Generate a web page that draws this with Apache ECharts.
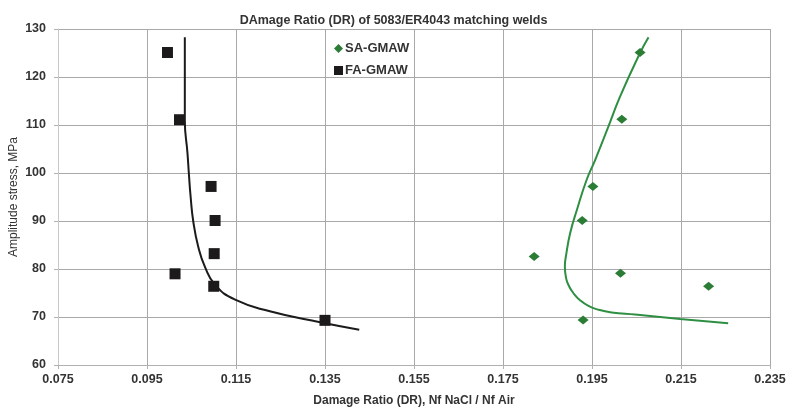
<!DOCTYPE html>
<html><head><meta charset="utf-8">
<script src="https://cdn.jsdelivr.net/npm/echarts@6/dist/echarts.min.js"></script>
<style>html,body{margin:0;padding:0;background:#fff}#c{width:787px;height:408px}</style>
</head><body><div id="c"></div>
<script>
// Data
const titleText = 'DAmage Ratio (DR) of 5083/ER4043 matching welds';
const xAxisName = 'Damage Ratio (DR), Nf NaCl / Nf Air';
const yAxisName = 'Amplitude stress, MPa';
const seriesNames = ['SA-GMAW', 'FA-GMAW'];

const saPoints = [[0.2058,125.1],[0.2017,111.2],[0.1952,97.2],[0.1928,90.1],[0.1820,82.6],[0.2014,79.1],[0.2212,76.4],[0.1930,69.4]];
const faPoints = [[0.0996,125.1],[0.1023,111.1],[0.1094,97.2],[0.1103,90.1],[0.1101,83.2],[0.1013,79.0],[0.1100,76.4],[0.1350,69.3]];

const saTrend = [[0.2077,128.3],[0.2058,125],[0.2013,115.9],[0.1987,109.7],[0.1957,102.7],[0.1938,98.6],[0.1916,92.3],[0.1901,87.5],[0.1892,83],[0.1889,80.5],[0.1892,78],[0.1898,76.5],[0.1908,75],[0.1923,73.5],[0.1942,72.3],[0.1965,71.5],[0.1994,70.95],[0.2047,70.5],[0.2148,69.6],[0.2256,68.7]];
const faTrend = [[0.1035,128.3],[0.1035,120],[0.1035,111],[0.1041,104.1],[0.1044,100],[0.1048,95.1],[0.1054,89.9],[0.1065,84.7],[0.1080,80.5],[0.1103,76.7],[0.1148,73.6],[0.1226,71.2],[0.1339,68.9],[0.1427,67.35]];

const xMin = 0.075, xMax = 0.235, xStep = 0.02;
const yMin = 60, yMax = 130, yStep = 10;

const green = '#2b7d36', greenLine = '#2e8f42', black = '#1c1a1a', txt = '#333';
const chart = echarts.init(document.getElementById('c'), null, {renderer: 'canvas'});
chart.setOption({
  animation: false,
  backgroundColor: '#fff',
  title: {text: titleText, left: 'center', top: 9,
    textStyle: {fontFamily: 'Liberation Sans', fontSize: 12.5, fontWeight: 'bold', color: txt}},
  legend: {
    data: [{name: seriesNames[0], icon: 'diamond'}, {name: seriesNames[1], icon: 'rect'}],
    orient: 'vertical', left: 329, top: 37, itemGap: 9, itemWidth: 9, itemHeight: 9,
    textStyle: {fontFamily: 'Liberation Sans', fontSize: 13, fontWeight: 'bold', color: txt, padding: [0,0,0,-3]}
  },
  grid: {left: 58, right: 17, top: 29, bottom: 43, outerBoundsMode: 'none', containLabel: false},
  xAxis: {
    type: 'value', min: xMin, max: xMax, interval: xStep,
    name: xAxisName, nameLocation: 'middle', nameGap: 30, nameMoveOverlap: false,
    nameTextStyle: {fontFamily: 'Liberation Sans', fontSize: 12, fontWeight: 'bold', color: txt},
    axisLine: {show: true, lineStyle: {color: '#b0b0b0', width: 1}},
    axisTick: {show: true, length: 4, lineStyle: {color: '#b0b0b0'}},
    axisLabel: {fontFamily: 'Liberation Sans', fontSize: 12.5, fontWeight: 'bold', color: txt, margin: 8,
      formatter: v => v.toFixed(3)},
    splitLine: {show: true, lineStyle: {color: '#a9a9a9', width: 1}}
  },
  yAxis: {
    type: 'value', min: yMin, max: yMax, interval: yStep,
    name: yAxisName, nameLocation: 'middle', nameGap: 38, nameMoveOverlap: false,
    nameTextStyle: {fontFamily: 'Liberation Sans', fontSize: 12, color: txt},
    axisLine: {show: true, lineStyle: {color: '#c8c8c8', width: 1}},
    axisTick: {show: true, length: 4, lineStyle: {color: '#b0b0b0'}},
    axisLabel: {fontFamily: 'Liberation Sans', fontSize: 12.5, fontWeight: 'bold', color: txt, margin: 12},
    splitLine: {show: true, lineStyle: {color: '#a9a9a9', width: 1}}
  },
  series: [
    {type: 'line', data: faTrend, smooth: 0.5, showSymbol: false, symbol: 'none',
      lineStyle: {color: black, width: 2}, z: 2, silent: true},
    {type: 'line', data: saTrend, smooth: 0.5, showSymbol: false, symbol: 'none',
      lineStyle: {color: greenLine, width: 2}, z: 2, silent: true},
    {name: seriesNames[0], type: 'scatter', data: saPoints, symbol: 'diamond', symbolSize: [11, 9],
      itemStyle: {color: green, opacity: 1}, z: 3},
    {name: seriesNames[1], type: 'scatter', data: faPoints, symbol: 'rect', symbolSize: 11,
      itemStyle: {color: black, opacity: 1}, z: 3}
  ]
});
</script></body></html>
